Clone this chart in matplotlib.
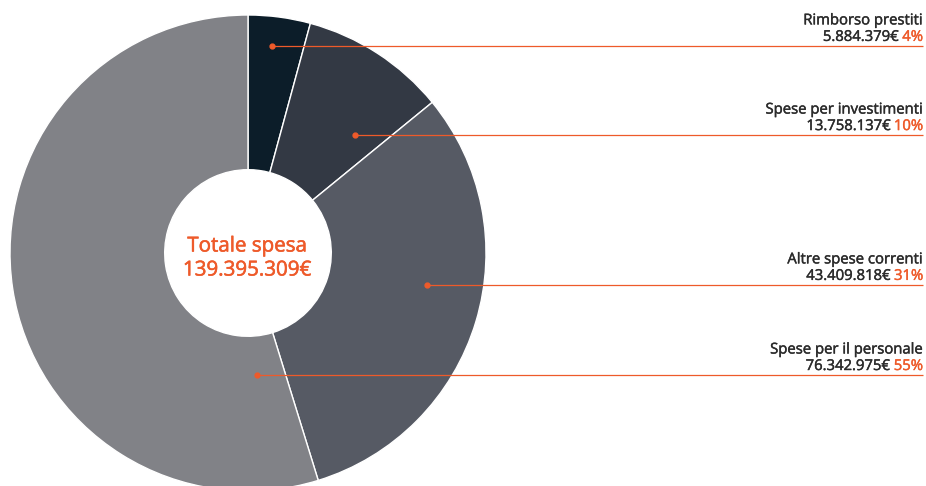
import matplotlib
matplotlib.use("Agg")
import matplotlib.pyplot as plt
import matplotlib.patheffects as pe
import numpy as np

categories = ["Rimborso prestiti", "Spese per investimenti", "Altre spese correnti", "Spese per il personale"]
values = [5884379, 13758137, 43409818, 76342975]
value_labels = ["5.884.379€", "13.758.137€", "43.409.818€", "76.342.975€"]
pct_labels = ["4%", "10%", "31%", "55%"]
total_label = "139.395.309€"
title_label = "Totale spesa"

colors = ["#0c1d29", "#333944", "#565a64", "#818287"]
orange = "#ee5a2a"
dark = "#2b2b2b"

W, H = 926, 486
fig = plt.figure(figsize=(W / 100, H / 100), dpi=100)
ax = fig.add_axes([0, 0, 1, 1])

cx, cy, R = 248, H - 253, 238
hole = 0.35
ax.pie(values, colors=colors, startangle=90, counterclock=False,
       center=(cx, cy), radius=R, frame=True,
       wedgeprops=dict(width=R * (1 - hole), edgecolor="white", linewidth=1.0))
ax.set_xlim(0, W)
ax.set_ylim(0, H)
ax.set_aspect("equal")
ax.axis("off")

font = "Open Sans"
def thick(c, w=0.3):
    return [pe.withStroke(linewidth=w, foreground=c)]

ax.text(cx - 1, H - 246, title_label, color=orange, fontsize=14.8, ha="center", va="center",
        family=font, path_effects=thick(orange, 0.4))
ax.text(cx - 1, H - 270, total_label, color=orange, fontsize=14.8, ha="center", va="center",
        family=font, path_effects=thick(orange, 0.4))

# label anchor layout: (angle from top clockwise in degrees, radius fraction)
anchors = [(6.6, 0.876), (42.2, 0.669), (100.1, 0.764), (175.8, 0.514)]
x_right = 923
fs = 10.7
for cat, vl, pl, (ang, rf) in zip(categories, value_labels, pct_labels, anchors):
    a = np.deg2rad(ang)
    px = cx + R * rf * np.sin(a)
    py = cy + R * rf * np.cos(a)
    ax.plot([px, x_right], [py, py], color=orange, lw=0.9, solid_capstyle="butt")
    ax.plot(px, py, "o", color=orange, ms=3.5)
    ax.text(x_right, py + 21.5, cat, color=dark, fontsize=fs, ha="right", va="baseline",
            family=font, path_effects=thick(dark))
    t = ax.text(x_right, py + 5, pl, color=orange, fontsize=fs, ha="right", va="baseline",
                family=font, path_effects=thick(orange))
    fig.canvas.draw()
    bb = t.get_window_extent()
    x0 = ax.transData.inverted().transform((bb.x0, bb.y0))[0]
    ax.text(x0 - 3.5, py + 5, vl, color=dark, fontsize=fs, ha="right", va="baseline",
            family=font, path_effects=thick(dark))

fig.savefig("out.png", dpi=100)
